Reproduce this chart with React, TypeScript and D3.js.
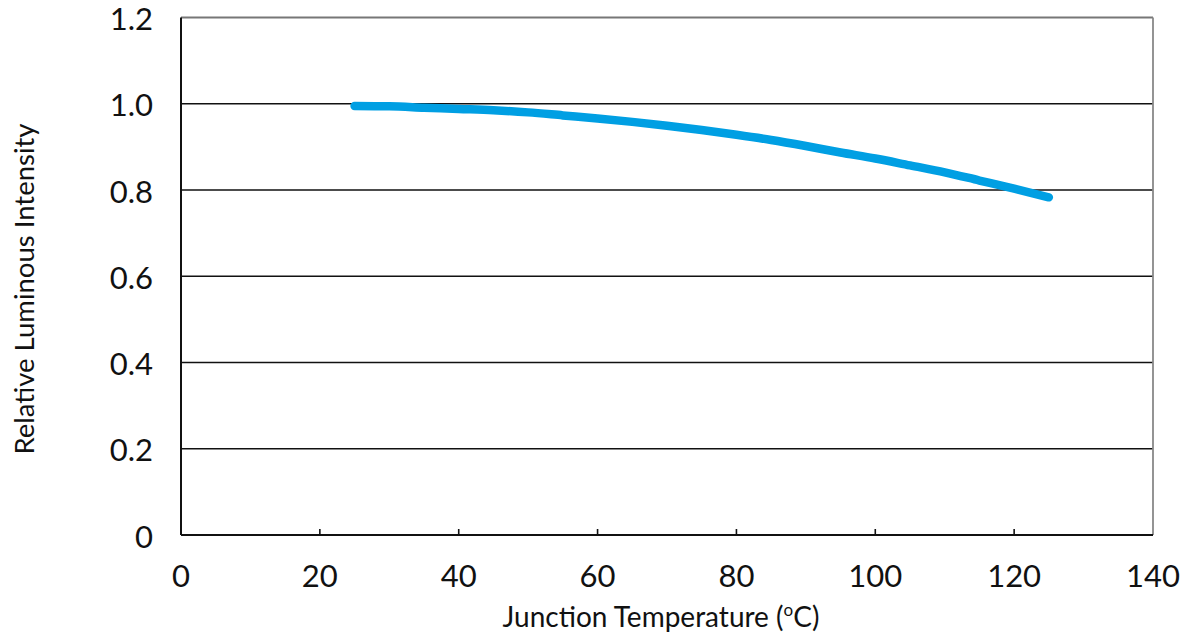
import React from "react";
import * as d3 from "d3";

const temperatures = [25, 30, 35, 40, 45, 50, 55, 60, 65, 70, 75, 80, 85, 90, 95, 100, 105, 110, 115, 120, 125];
const intensity = [0.995, 0.994, 0.991, 0.988, 0.985, 0.98, 0.973, 0.966, 0.958, 0.949, 0.939, 0.928, 0.916, 0.902, 0.887, 0.873, 0.857, 0.841, 0.822, 0.803, 0.783];
const xTicks = [0, 20, 40, 60, 80, 100, 120, 140];
const yTicks = [0, 0.2, 0.4, 0.6, 0.8, 1.0, 1.2];
const yTickLabels = ["0", "0.2", "0.4", "0.6", "0.8", "1.0", "1.2"];

const W = 1186, H = 637;
const left = 181, right = 1153, top = 17.5, bottom = 535;
const FONT = "Lato, 'Open Sans', sans-serif";

export default function App() {
  const x = d3.scaleLinear().domain([0, 140]).range([left, right]);
  const y = d3.scaleLinear().domain([0, 1.2]).range([bottom, top]);
  const pts = temperatures.map((t, i) => [t, intensity[i]] as [number, number]);
  const line = d3.line<[number, number]>().x(d => x(d[0])).y(d => y(d[1])).curve(d3.curveMonotoneX);

  return (
    <svg width={W} height={H} style={{ position: "absolute", left: 0, top: 0, background: "#fff" }}>
      <rect x={0} y={0} width={W} height={H} fill="#fff" />
      {yTicks.filter(v => v > 0 && v < 1.2).map(v => (
        <line key={v} x1={left} x2={right} y1={y(v)} y2={y(v)} stroke="#111" strokeWidth={1.6} />
      ))}
      <line x1={left} x2={right} y1={y(1.2)} y2={y(1.2)} stroke="#777" strokeWidth={1.8} />
      <line x1={right} x2={right} y1={top} y2={bottom} stroke="#888" strokeWidth={1.8} />
      <line x1={left} x2={left} y1={top} y2={bottom} stroke="#111" strokeWidth={2} />
      <line x1={left} x2={right} y1={bottom} y2={bottom} stroke="#111" strokeWidth={2} />
      {xTicks.filter(v => v > 0 && v < 140).map(v => (
        <line key={v} x1={x(v)} x2={x(v)} y1={bottom} y2={bottom - 6} stroke="#111" strokeWidth={1.6} />
      ))}
      <path d={line(pts) || ""} fill="none" stroke="#009fe3" strokeWidth={8.5} strokeLinecap="round" strokeLinejoin="round" />
      {yTicks.map((v, i) => (
        <text key={v} x={153} y={y(v) + 1.5} dy="0.36em" textAnchor="end" fontFamily={FONT} fontSize={31} fill="#111">
          {yTickLabels[i]}
        </text>
      ))}
      {xTicks.map(v => (
        <text key={v} x={x(v)} y={587} textAnchor="middle" fontFamily={FONT} fontSize={31} fill="#111">
          {v}
        </text>
      ))}
      <text x={661} y={627} textAnchor="middle" fontFamily={FONT} fontSize={28} fill="#111">
        Junction Temperature (<tspan fontSize={17} dy={-11}>o</tspan><tspan dy={11}>C)</tspan>
      </text>
      <text transform={`translate(34, 289) rotate(-90)`} textAnchor="middle" fontFamily={FONT} fontSize={27.5} fill="#111">
        Relative Luminous Intensity
      </text>
    </svg>
  );
}
